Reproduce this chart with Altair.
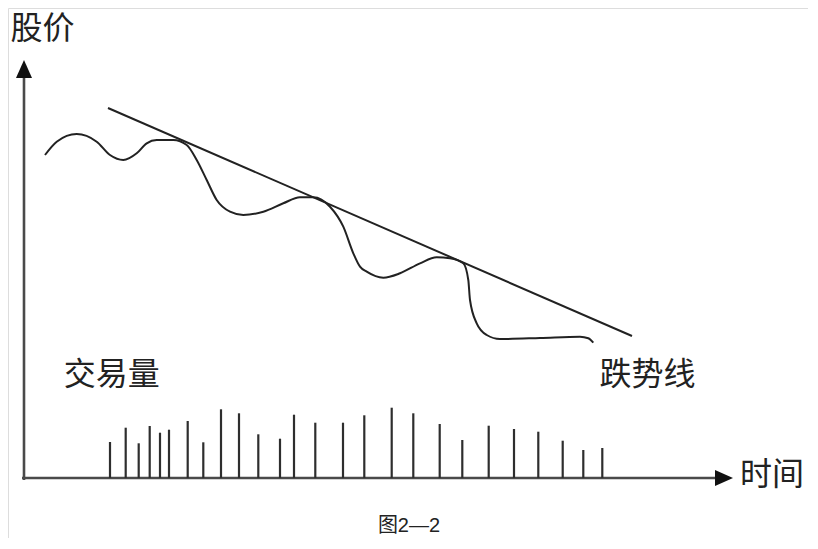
import altair as alt
import pandas as pd

# ---- data (time units, price units; origin at axis crossing) ----
curve_t = [21, 32.7, 52.7, 72.7, 86, 99.3, 112.7, 122.7, 132.7, 149.3, 162.7, 172.7,
           182.7, 192.7, 206, 219.3, 239.3, 259.3, 276, 289.3, 306, 319.3, 329.3, 336,
           342.7, 359.3, 376, 396, 412.7, 426, 439.3, 444.3, 446, 452.7, 462.7, 476,
           516, 556, 564.3, 569.3]
curve_p = [323, 336.3, 344, 336.3, 323, 318, 324.7, 334.7, 338, 338, 333, 318,
           298, 278, 266.3, 263, 266.3, 274.7, 280.7, 280.7, 271.3, 251.3, 224.7, 211.3,
           206.3, 200.3, 204.7, 214.7, 220.7, 219.7, 214.7, 198, 178, 154.7, 143, 139,
           140, 141.3, 139.7, 135.3]

trend_t = [84, 608]
trend_p = [370, 142]

vol_t = [86, 101.7, 114.7, 125.7, 136, 145, 163.7, 179.3, 197, 215, 234.3, 256, 270,
         291.3, 319, 340.3, 367.7, 389.3, 415.7, 438.3, 464.7, 490, 514.3, 538.7,
         559.3, 578.3]
vol_v = [36, 50.3, 34.7, 52, 45.3, 48.3, 57, 35.7, 68.7, 64.7, 43.7, 39.3, 63.3,
         55.3, 55.3, 62.7, 70.3, 64.7, 54, 38, 52.3, 49, 46.3, 37.3, 28, 30]

# axis extents (shaft ends and arrow heads)
yaxis_shaft = [-2, 402]
yaxis_head = 409
xaxis_shaft = [-2, 692]
xaxis_head = 700

labels = ["股价", "交易量", "跌势线", "时间"]
label_t = [18.5, 87.7, 623.5, 748]
label_p = [449, 103, 103, 3]

caption = "图2—2"
caption_t = 385
caption_p = -47.5

# ---- chart ----
X = alt.Scale(domain=[-16, 784])
Y = alt.Scale(domain=[-60, 470])
INK = "#222222"
AXC = "#4a4a4a"

curve_df = pd.DataFrame({"t": curve_t, "p": curve_p, "o": range(len(curve_t))})
trend_df = pd.DataFrame({"t": trend_t, "p": trend_p})
vol_df = pd.DataFrame({"t": vol_t, "p": [0] * len(vol_t), "v": vol_v})

curve = alt.Chart(curve_df).mark_line(
    interpolate="monotone", color=INK, strokeWidth=2
).encode(
    x=alt.X("t:Q", scale=X, axis=None),
    y=alt.Y("p:Q", scale=Y, axis=None),
    order="o:Q",
)

trend = alt.Chart(trend_df).mark_line(color=INK, strokeWidth=2).encode(
    x=alt.X("t:Q", scale=X, axis=None),
    y=alt.Y("p:Q", scale=Y, axis=None),
)

bars = alt.Chart(vol_df).mark_rule(color="#2e2e2e", strokeWidth=2.2).encode(
    x=alt.X("t:Q", scale=X, axis=None),
    y=alt.Y("p:Q", scale=Y, axis=None),
    y2="v:Q",
)

yaxis_df = pd.DataFrame({"t": [0], "p": [yaxis_shaft[0]], "p2": [yaxis_shaft[1]]})
yaxis = alt.Chart(yaxis_df).mark_rule(color=AXC, strokeWidth=2.6).encode(
    x=alt.X("t:Q", scale=X, axis=None),
    y=alt.Y("p:Q", scale=Y, axis=None),
    y2="p2:Q",
)
xaxis_df = pd.DataFrame({"t": [xaxis_shaft[0]], "t2": [xaxis_shaft[1]], "p": [0]})
xaxis = alt.Chart(xaxis_df).mark_rule(color=AXC, strokeWidth=2.6).encode(
    x=alt.X("t:Q", scale=X, axis=None),
    x2="t2:Q",
    y=alt.Y("p:Q", scale=Y, axis=None),
)

yhead = alt.Chart(pd.DataFrame({"t": [0], "p": [yaxis_head]})).mark_point(
    shape="M0,-1L-0.89,1L0.89,1Z", size=324, filled=True, color="#111111", opacity=1
).encode(
    x=alt.X("t:Q", scale=X, axis=None),
    y=alt.Y("p:Q", scale=Y, axis=None),
)
xhead = alt.Chart(pd.DataFrame({"t": [xaxis_head], "p": [0]})).mark_point(
    shape="M1,0L-1,-0.89L-1,0.89Z", size=324, filled=True, color="#111111", opacity=1
).encode(
    x=alt.X("t:Q", scale=X, axis=None),
    y=alt.Y("p:Q", scale=Y, axis=None),
)

label_df = pd.DataFrame({"t": label_t, "p": label_p, "s": labels})
text = alt.Chart(label_df).mark_text(
    font="Noto Sans CJK SC", fontSize=32, color=INK, align="center", baseline="middle"
).encode(
    x=alt.X("t:Q", scale=X, axis=None),
    y=alt.Y("p:Q", scale=Y, axis=None),
    text="s:N",
)

cap_df = pd.DataFrame({"t": [caption_t], "p": [caption_p], "s": [caption]})
cap = alt.Chart(cap_df).mark_text(
    font="Liberation Sans, Noto Sans CJK SC", fontSize=20, color=INK,
    align="center", baseline="middle"
).encode(
    x=alt.X("t:Q", scale=X, axis=None),
    y=alt.Y("p:Q", scale=Y, axis=None),
    text="s:N",
)

chart = alt.layer(yaxis, xaxis, yhead, xhead, bars, trend, curve, text, cap).properties(
    width=800, height=530, padding=0,
    autosize=alt.AutoSizeParams(type="none"),
).configure_view(stroke="transparent", strokeWidth=0).configure(background="transparent")

chart.save("out.html", embed_options={"renderer": "svg", "actions": False})
